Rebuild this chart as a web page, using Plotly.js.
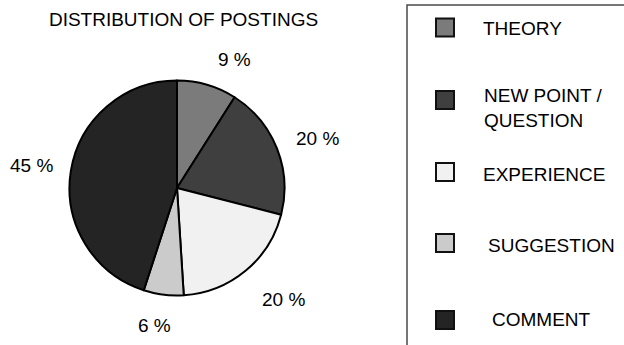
<!DOCTYPE html>
<html>
<head>
<meta charset="utf-8">
<script src="https://cdn.plot.ly/plotly-3.0.1.min.js"></script>
<style>html,body{margin:0;padding:0;background:#fff;}#chart{width:624px;height:345px;}</style>
</head>
<body>
<div id="chart"></div>
<script>
// ---- data ----
var categories = ["THEORY", "NEW POINT / QUESTION", "EXPERIENCE", "SUGGESTION", "COMMENT"];
var shares = [9, 20, 20, 6, 45];
var sliceColors = ["#7b7b7b", "#3f3f3f", "#f1f1f1", "#cbcbcb", "#242424"];
var chartTitle = "DISTRIBUTION OF POSTINGS";

// ---- layout helpers ----
var W = 624, H = 345;
var FONT = "Liberation Sans, Arial, Helvetica, sans-serif";
var FS = 19;
var TXT = "#000";
var cx = 177, cy = 188, r = 107.5;          // pie center / radius in px
function px(x) { return x / W; }
function py(y) { return 1 - y / H; }

// percentage labels placed outside along each slice's mid-angle
var labelR = 146;
var labelNudge = [[17, 12], [5, 4], [13, -1], [-4, -7], [-1, 0]];
var total = shares.reduce(function (a, b) { return a + b; }, 0);
var annotations = [];
var cum = 0;
shares.forEach(function (v, i) {
  var mid = (cum + v / 2) / total * 2 * Math.PI;
  cum += v;
  var x = cx + labelR * Math.sin(mid) + labelNudge[i][0];
  var y = cy - labelR * Math.cos(mid) + labelNudge[i][1];
  annotations.push({
    xref: "paper", yref: "paper", x: px(x), y: py(y),
    xanchor: "center", yanchor: "middle", showarrow: false,
    text: v + " %", font: {family: FONT, size: FS, color: TXT}
  });
});

// custom legend (boxed, widely spaced)
var legSquareY = [27.5, 100, 172, 243, 320];
var legTextY = [28, 108, 174, 245, 319];
var legTextX = [481, 482, 481, 486, 490];
var shapes = [{
  type: "rect", xref: "paper", yref: "paper",
  x0: px(407), x1: px(640), y0: py(5), y1: py(360),
  line: {color: "#4a4a4a", width: 1.5}, fillcolor: "rgba(0,0,0,0)"
}];
categories.forEach(function (c, i) {
  shapes.push({
    type: "rect", xref: "paper", yref: "paper",
    x0: px(436), x1: px(454), y0: py(legSquareY[i] - 9), y1: py(legSquareY[i] + 9),
    line: {color: "#111", width: 2}, fillcolor: sliceColors[i]
  });
  annotations.push({
    xref: "paper", yref: "paper", x: px(legTextX[i]), y: py(legTextY[i]),
    xanchor: "left", yanchor: "middle", align: "left", showarrow: false,
    text: c.replace(" / ", " /<br>"), font: {family: FONT, size: FS, color: TXT}
  });
});

var trace = {
  type: "pie",
  labels: categories,
  values: shares,
  sort: false,
  direction: "clockwise",
  rotation: 0,
  textinfo: "none",
  hoverinfo: "label+percent",
  marker: {colors: sliceColors, line: {color: "#000", width: 2}},
  domain: {x: [px(cx - r), px(cx + r)], y: [py(cy + r), py(cy - r)]},
  showlegend: false
};

var layout = {
  width: W, height: H,
  margin: {l: 0, r: 0, t: 0, b: 0},
  paper_bgcolor: "#fff",
  showlegend: false,
  title: {
    text: chartTitle, x: px(183.5), xanchor: "center", xref: "paper",
    y: py(19), yanchor: "middle", yref: "container",
    font: {family: FONT, size: FS, color: TXT}
  },
  annotations: annotations,
  shapes: shapes
};

Plotly.newPlot("chart", [trace], layout, {displayModeBar: false, staticPlot: true});
</script>
</body>
</html>
